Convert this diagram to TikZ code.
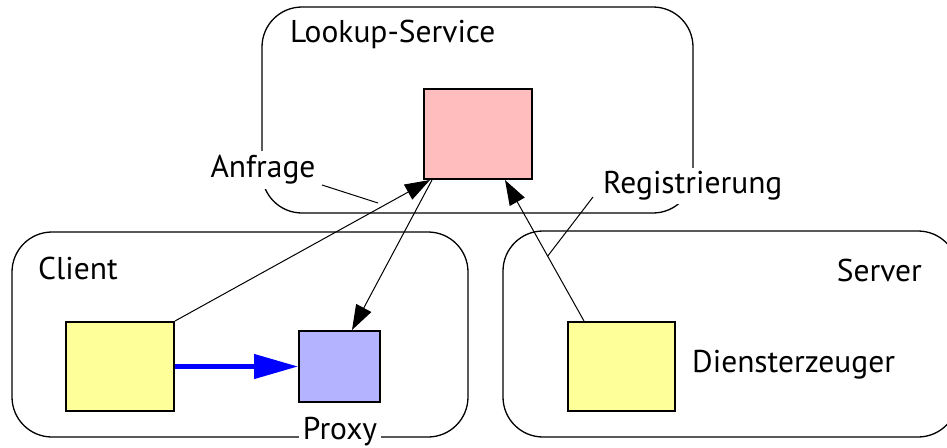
\documentclass[tikz,border=0pt]{standalone}
\usepackage{fontspec}
\setmainfont{PT Sans}
\usetikzlibrary{arrows.meta}
\definecolor{lookpink}{RGB}{255,189,189}
\definecolor{svyellow}{RGB}{255,255,153}
\definecolor{pxblue}{RGB}{179,179,255}
\begin{document}
\begin{tikzpicture}[x=1pt,y=-1pt,
  region/.style={draw, line width=1.3pt, rounded corners=40pt},
  comp/.style={draw, line width=2pt, inner sep=0pt, anchor=north west},
  lbl/.style={font=\fontsize{31.5}{36}\selectfont, inner sep=0pt},
  tag/.style={lbl, fill=white, inner sep=4pt},
  call/.style={line width=1pt, -{Triangle[length=25pt,width=17pt]}},
  lead/.style={line width=1pt}]
\useasboundingbox (0,0) rectangle (947,447);

% the three regions
\draw[region] (262,7) rectangle (693,213);
\draw[region] (12,232) rectangle (468,437);
\draw[region] (503,231) rectangle (958,437);

% components
\node[comp, fill=lookpink, minimum width=108pt, minimum height=90pt] (lk) at (423,88) {};
\node[comp, fill=svyellow, minimum width=108pt, minimum height=89pt] (cl) at (65,321) {};
\node[comp, fill=pxblue, minimum width=81pt, minimum height=71pt] (px) at (298,330) {};
\node[comp, fill=svyellow, minimum width=107pt, minimum height=89pt] (sv) at (567,321) {};

% region titles
\node[lbl, anchor=west] (tlk) at (290,34) {Lookup-Service};
\node[lbl, anchor=west] (tcl) at (38,268) {Client};
\node[lbl, anchor=east] (tsv) at (922,270) {Server};
\node[lbl, anchor=west] (tdz) at (692,365) {Diensterzeuger};

% interactions
\draw[call] (cl.north east) -- ([xshift=7pt]lk.south west);
\draw[call] ([xshift=9pt]lk.south west) -- ([xshift=54pt]px.north west);
\draw[call] ([xshift=17pt]sv.north west) -- coordinate[pos=0.46] (qr) ([xshift=82pt]lk.south west);
\draw[line width=4.5pt, blue, -{Triangle[length=44pt,width=24pt]}] (cl.east) -- (px.west);

% annotations with leaders
\node[tag] (anf) at (263,170) {Anfrage};
\coordinate (anfend) at (378,203);
\draw[lead] (322,185) -- (anfend);
\node[tag, anchor=west] (reg) at (599,186) {Registrierung};
\draw[lead] (593,197) -- (qr);
\node[tag] (prx) at (340,432) {Proxy};
\end{tikzpicture}
\end{document}
